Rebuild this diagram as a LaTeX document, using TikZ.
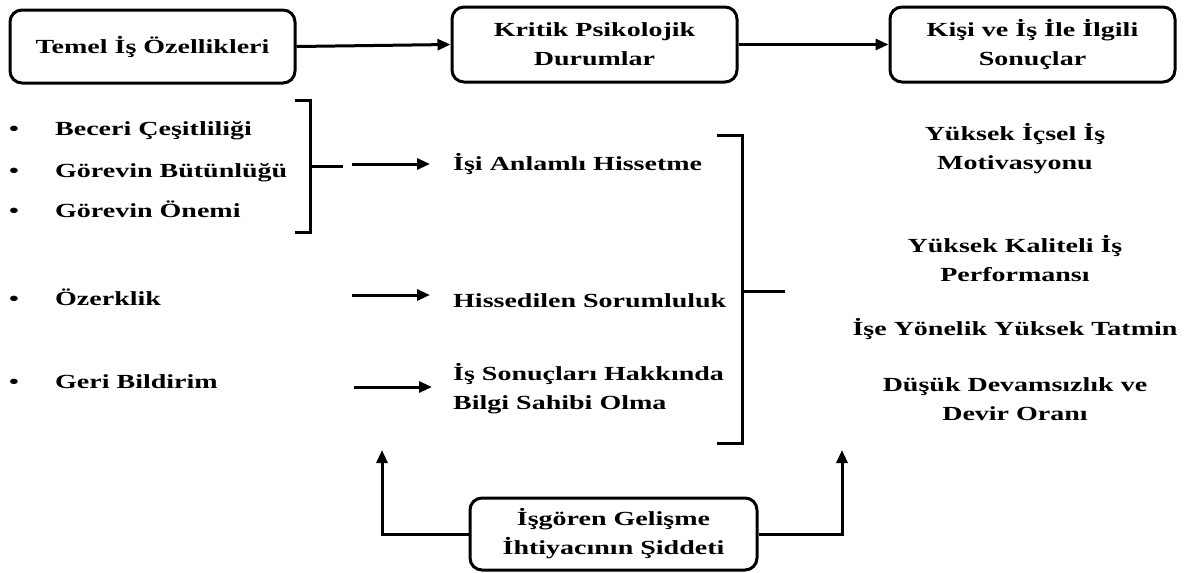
\documentclass[tikz,border=0pt]{standalone}
\usepackage{fontspec}
\setmainfont{Liberation Serif}[FakeStretch=1.4]
\usetikzlibrary{arrows.meta}
\begin{document}
\begin{tikzpicture}[x=1pt,y=-1pt,
  every node/.style={font=\fontsize{20}{29}\selectfont\bfseries, inner sep=0pt},
  one/.style={text height=14pt, text depth=4pt},
  box/.style={draw, line width=3pt, rounded corners=12pt, align=center},
  ln/.style={line width=3pt},
  arr/.style={line width=3pt, -{Triangle[length=13pt,width=11pt]}},
  lbl/.style={anchor=west, align=left},
  dot/.style={anchor=center, one},
  res/.style={align=center}]
\useasboundingbox (0,0) rectangle (1184,573);
% top boxes
\node[box, minimum width=285pt, minimum height=73pt] (b1) at (152.5,46.5) {Temel İş Özellikleri};
\node[box, minimum width=285pt, minimum height=75pt] (b2) at (594.5,44.5) {Kritik Psikolojik\\Durumlar};
\node[box, minimum width=285pt, minimum height=75pt] (b3) at (1032.5,44.5) {Kişi ve İş İle İlgili\\Sonuçlar};
\draw[arr] (b1.east) -- (b2.west);
\draw[arr] (b2.east) -- (b3.west);
% left column
\node[dot] (d1) at (14,130) {\textbullet};
\node[dot] (d2) at (14,172) {\textbullet};
\node[dot] (d3) at (14,212) {\textbullet};
\node[dot] (d4) at (14,300) {\textbullet};
\node[dot] (d5) at (14,383) {\textbullet};
\node[lbl, one] (l1) at (55,130) {Beceri Çeşitliliği};
\node[lbl, one] (l2) at (55,172) {Görevin Bütünlüğü};
\node[lbl, one] (l3) at (55,212) {Görevin Önemi};
\node[lbl, one] (l4) at (55,300) {Özerklik};
\node[lbl, one] (l5) at (55,383) {Geri Bildirim};
% bracket 1
\draw[ln] (295,100) -- (310,100) -- (310,232) -- (295,232);
\draw[ln] (310,166) -- (343,166);
% middle column
\node[lbl, one] (m1) at (453,165) {İşi Anlamlı Hissetme};
\node[lbl, one] (m2) at (453,302) {Hissedilen Sorumluluk};
\node[lbl] (m3) at (453,389) {İş Sonuçları Hakkında\\Bilgi Sahibi Olma};
\coordinate (s1) at (352,164);
\coordinate (s2) at (352,295);
\coordinate (s3) at (354,387);
\draw[arr] (s1) -- (430,164);
\draw[arr] (s2) -- (430,295);
\draw[arr] (s3) -- (432,387);
% bracket 2
\draw[ln] (717,135) -- (742,135) -- (742,443) -- (717,443);
\draw[ln] (742,291) -- (785,291);
% right column
\node[res] (r1) at (1015,149) {Yüksek İçsel İş\\Motivasyonu};
\node[res] (r2) at (1015,259) {Yüksek Kaliteli İş\\Performansı};
\node[res, one] (r3) at (1015,330) {İşe Yönelik Yüksek Tatmin};
\node[res] (r4) at (1015,399) {Düşük Devamsızlık ve\\Devir Oranı};
% bottom box
\node[box, minimum width=287pt, minimum height=72pt] (b4) at (613.5,534) {İşgören Gelişme\\İhtiyacının Şiddeti};
\coordinate (t1) at (382,450);
\coordinate (t2) at (842,450);
\draw[arr] (b4.west) -| (t1);
\draw[arr] (b4.east) -| (t2);
\end{tikzpicture}
\end{document}
